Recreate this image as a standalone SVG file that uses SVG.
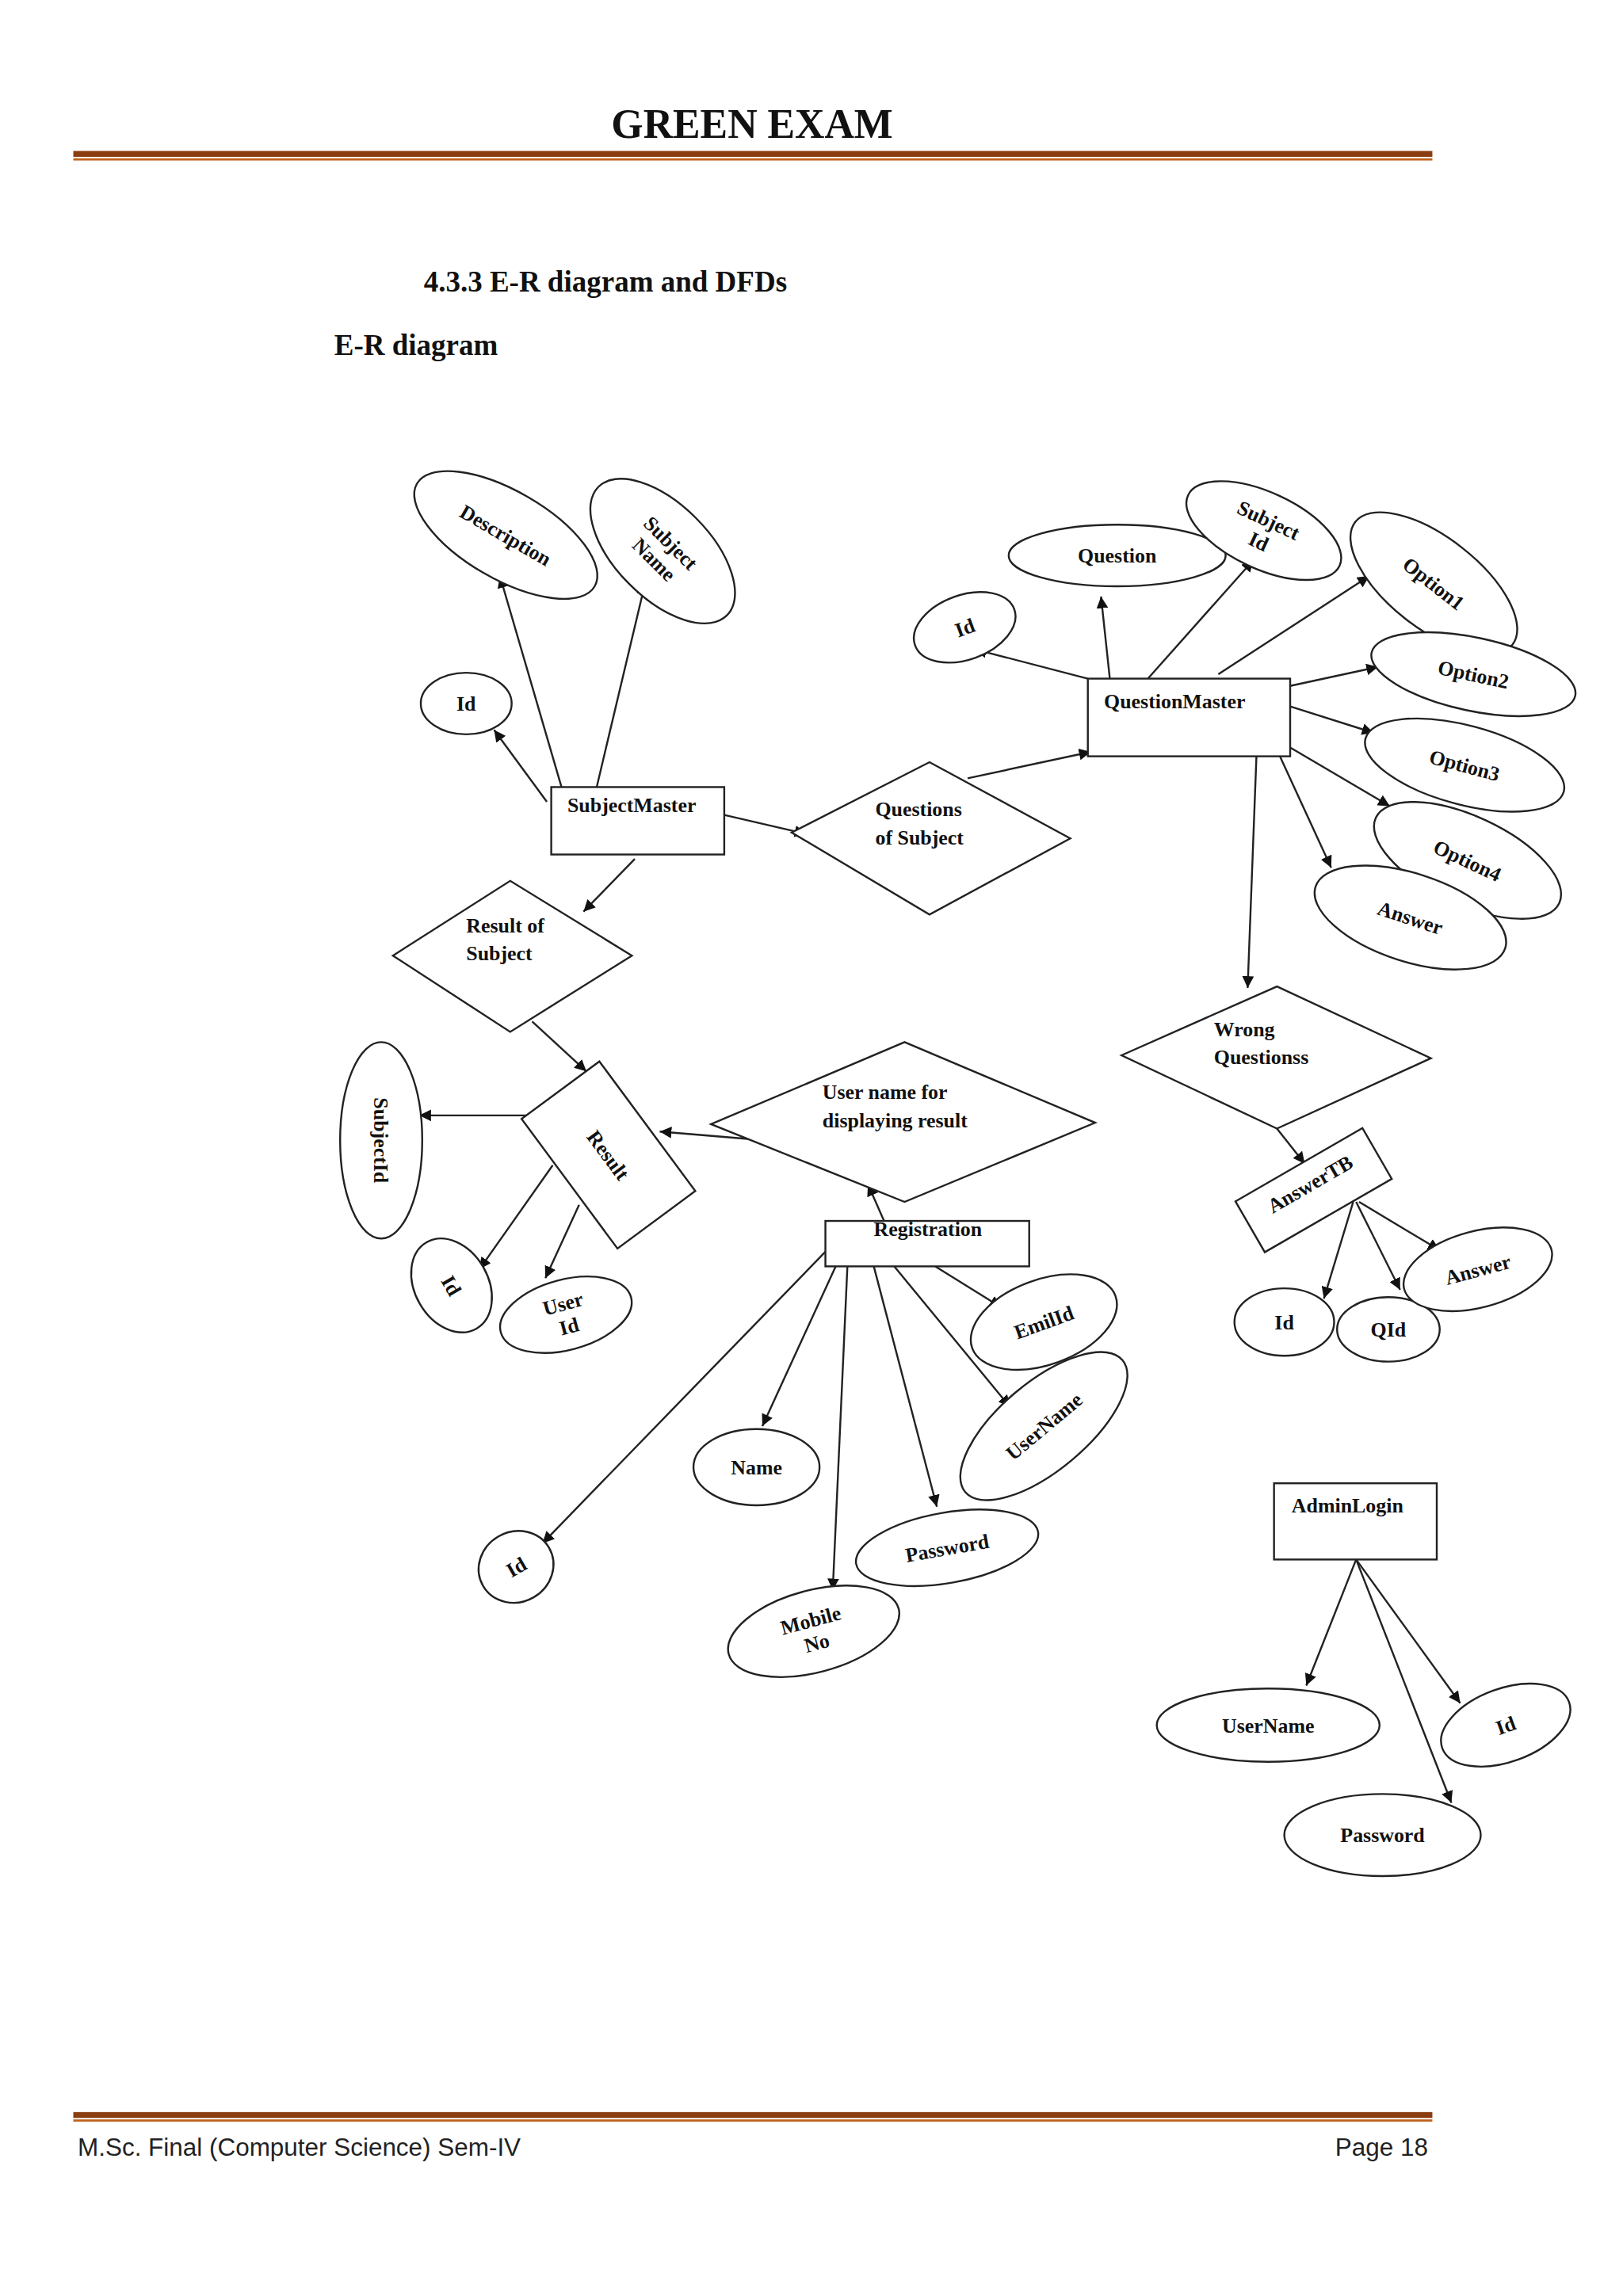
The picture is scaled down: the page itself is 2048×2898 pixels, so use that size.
<svg xmlns="http://www.w3.org/2000/svg" width="2048" height="2898" viewBox="0 0 2048 2898">
<defs>
<marker id="ah" viewBox="0 0 10 10" refX="10" refY="5" markerWidth="8" markerHeight="8" markerUnits="userSpaceOnUse" orient="auto"><path d="M0,0 L10,5 L0,10 z" fill="#111"/></marker>
<style>
.s{fill:#fff;stroke:#222;stroke-width:1.3}
.t{font-family:"Liberation Serif",serif;font-weight:bold;font-size:14px;fill:#111}
.c line{stroke:#222;stroke-width:1.3;marker-end:url(#ah)}
</style>
</defs>
<rect width="2048" height="2898" fill="#fff"/>
<g transform="scale(1.85)">
<g id="header">
<text x="513" y="94" text-anchor="middle" font-family="Liberation Serif,serif" font-weight="bold" font-size="28" fill="#111">GREEN EXAM</text>
<rect x="50" y="103" width="927" height="4" fill="#8a3d10"/><rect x="50" y="108" width="927" height="1.5" fill="#c0601a"/>
<text x="289" y="199" font-family="Liberation Serif,serif" font-weight="bold" font-size="20" fill="#111">4.3.3 E-R diagram and DFDs</text>
<text x="228" y="242" font-family="Liberation Serif,serif" font-weight="bold" font-size="20" fill="#111">E-R diagram</text>
</g>
<g id="footer">
<rect x="50" y="1441" width="927" height="4" fill="#8a3d10"/><rect x="50" y="1446" width="927" height="1.5" fill="#c0601a"/>
<text x="53" y="1471" font-family="Liberation Sans,sans-serif" font-size="17" fill="#222">M.Sc. Final (Computer Science) Sem-IV</text>
<text x="974" y="1471" text-anchor="end" font-family="Liberation Sans,sans-serif" font-size="17" fill="#222">Page 18</text>
</g>
<g class="c" id="connectors">
<line x1="383" y1="537" x2="341" y2="393"/>
<line x1="407" y1="537" x2="440" y2="398"/>
<line x1="373" y1="547" x2="337" y2="498"/>
<line x1="494" y1="556" x2="550" y2="569"/>
<line x1="660" y1="531" x2="744" y2="513"/>
<line x1="433" y1="586" x2="398" y2="622"/>
<line x1="363" y1="697" x2="400" y2="731"/>
<line x1="361" y1="761" x2="286" y2="761"/>
<line x1="377" y1="795" x2="327" y2="866"/>
<line x1="395" y1="822" x2="372" y2="872"/>
<line x1="510" y1="777" x2="450" y2="772"/>
<line x1="603" y1="833" x2="592" y2="808"/>
<line x1="742" y1="463" x2="665" y2="443"/>
<line x1="757" y1="463" x2="751" y2="407"/>
<line x1="783" y1="463" x2="855" y2="382"/>
<line x1="831" y1="460" x2="934" y2="393"/>
<line x1="880" y1="468" x2="940" y2="455"/>
<line x1="880" y1="482" x2="937" y2="500"/>
<line x1="880" y1="510" x2="948" y2="550"/>
<line x1="873" y1="516" x2="908" y2="592"/>
<line x1="857" y1="516" x2="851" y2="674"/>
<line x1="871" y1="770" x2="890" y2="794"/>
<line x1="923" y1="820" x2="903" y2="886"/>
<line x1="925" y1="820" x2="955" y2="880"/>
<line x1="927" y1="820" x2="982" y2="853"/>
<line x1="638" y1="864" x2="683" y2="892"/>
<line x1="610" y1="864" x2="689" y2="960"/>
<line x1="596" y1="864" x2="639" y2="1028"/>
<line x1="578" y1="864" x2="568" y2="1085"/>
<line x1="570" y1="864" x2="520" y2="973"/>
<line x1="563" y1="854" x2="370" y2="1053"/>
<line x1="925" y1="1064" x2="891" y2="1150"/>
<line x1="925" y1="1064" x2="996" y2="1162"/>
<line x1="925" y1="1064" x2="990" y2="1230"/>
</g>
<g id="description"><g transform="translate(345,365) rotate(30)"><ellipse class="s" rx="70" ry="30"/><text class="t" text-anchor="middle" y="5">Description</text></g></g>
<g id="subjectname"><g transform="translate(452,376) rotate(45)"><ellipse class="s" rx="62" ry="32"/><text class="t" text-anchor="middle" y="-3">Subject</text><text class="t" text-anchor="middle" y="13">Name</text></g></g>
<g id="sm_id"><ellipse class="s" cx="318" cy="480" rx="31" ry="21"/><text class="t" x="318" y="485" text-anchor="middle">Id</text></g>
<g id="subjectmaster"><rect class="s" x="376" y="537" width="118" height="46"/><text class="t" x="387" y="554">SubjectMaster</text></g>
<g id="questionsofsubject"><polygon class="s" points="540,568 634,520 730,572 634,624"/><text class="t" x="597" y="557">Questions</text><text class="t" x="597" y="576">of Subject</text></g>
<g id="resultofsubject"><polygon class="s" points="268,652 348,601 431,652 348,704"/><text class="t" x="318" y="636">Result of</text><text class="t" x="318" y="655">Subject</text></g>
<g id="question"><ellipse class="s" cx="762" cy="379" rx="74" ry="21"/><text class="t" x="762" y="384" text-anchor="middle">Question</text></g>
<g id="qm_subjectid"><g transform="translate(862,362) rotate(25)"><ellipse class="s" rx="57" ry="26"/><text class="t" text-anchor="middle" y="-3">Subject</text><text class="t" text-anchor="middle" y="13">Id</text></g></g>
<g id="qm_id"><g transform="translate(658,428) rotate(-20)"><ellipse class="s" rx="36" ry="22"/><text class="t" text-anchor="middle" y="5">Id</text></g></g>
<g id="option1"><g transform="translate(978,398) rotate(38)"><ellipse class="s" rx="68" ry="31"/><text class="t" text-anchor="middle" y="5">Option1</text></g></g>
<g id="option2"><g transform="translate(1005,460) rotate(12)"><ellipse class="s" rx="71" ry="25"/><text class="t" text-anchor="middle" y="5">Option2</text></g></g>
<g id="option3"><g transform="translate(999,522) rotate(15)"><ellipse class="s" rx="70" ry="27"/><text class="t" text-anchor="middle" y="5">Option3</text></g></g>
<g id="option4"><g transform="translate(1001,587) rotate(25)"><ellipse class="s" rx="69" ry="30"/><text class="t" text-anchor="middle" y="5">Option4</text></g></g>
<g id="qm_answer"><g transform="translate(962,626) rotate(18)"><ellipse class="s" rx="68" ry="30"/><text class="t" text-anchor="middle" y="5">Answer</text></g></g>
<g id="questionmaster"><rect class="s" x="742" y="463" width="138" height="53"/><text class="t" x="753" y="483">QuestionMaster</text></g>
<g id="wrongquestions"><polygon class="s" points="765,720 871,673 976,722 871,770"/><text class="t" x="828" y="707">Wrong</text><text class="t" x="828" y="726">Questionss</text></g>
<g id="answertb"><g transform="translate(896,812) rotate(-30)"><rect class="s" x="-50" y="-20" width="100" height="40"/><text class="t" text-anchor="middle" y="0">AnswerTB</text></g></g>
<g id="atb_id"><ellipse class="s" cx="876" cy="902" rx="34" ry="23"/><text class="t" x="876" y="907" text-anchor="middle">Id</text></g>
<g id="atb_qid"><ellipse class="s" cx="947" cy="907" rx="35" ry="22"/><text class="t" x="947" y="912" text-anchor="middle">QId</text></g>
<g id="atb_answer"><g transform="translate(1008,866) rotate(-15)"><ellipse class="s" rx="52" ry="26"/><text class="t" text-anchor="middle" y="5">Answer</text></g></g>
<g id="result"><g transform="translate(415,788) rotate(53.5)"><rect class="s" x="-55" y="-33" width="110" height="66"/><text class="t" text-anchor="middle" y="5">Result</text></g></g>
<g id="subjectid"><g transform="translate(260,778) rotate(90)"><ellipse class="s" rx="67" ry="28"/><text class="t" text-anchor="middle" y="5">SubjectId</text></g></g>
<g id="res_id"><g transform="translate(308,877) rotate(60)"><ellipse class="s" rx="34" ry="25"/><text class="t" text-anchor="middle" y="5">Id</text></g></g>
<g id="userid"><g transform="translate(386,897) rotate(-15)"><ellipse class="s" rx="46" ry="24"/><text class="t" text-anchor="middle" y="-3">User</text><text class="t" text-anchor="middle" y="13">Id</text></g></g>
<g id="usernamefordisplaying"><polygon class="s" points="485,767 617,711 747,766 617,820"/><text class="t" x="561" y="750">User name  for</text><text class="t" x="561" y="769">displaying  result</text></g>
<g id="registration"><rect class="s" x="563" y="833" width="139" height="31"/><text class="t" x="596" y="843">Registration</text></g>
<g id="emilid"><g transform="translate(712,902) rotate(-20)"><ellipse class="s" rx="52" ry="29"/><text class="t" text-anchor="middle" y="5">EmilId</text></g></g>
<g id="reg_username"><g transform="translate(712,973) rotate(-40)"><ellipse class="s" rx="70" ry="30"/><text class="t" text-anchor="middle" y="5">UserName</text></g></g>
<g id="name"><ellipse class="s" cx="516" cy="1001" rx="43" ry="26"/><text class="t" x="516" y="1006" text-anchor="middle">Name</text></g>
<g id="reg_password"><g transform="translate(646,1056) rotate(-10)"><ellipse class="s" rx="63" ry="24"/><text class="t" text-anchor="middle" y="5">Password</text></g></g>
<g id="mobileno"><g transform="translate(555,1113) rotate(-15)"><ellipse class="s" rx="60" ry="28"/><text class="t" text-anchor="middle" y="-3">Mobile</text><text class="t" text-anchor="middle" y="13">No</text></g></g>
<g id="reg_id"><g transform="translate(352,1069) rotate(-30)"><ellipse class="s" rx="26" ry="24"/><text class="t" text-anchor="middle" y="5">Id</text></g></g>
<g id="adminlogin"><rect class="s" x="869" y="1012" width="111" height="52"/><text class="t" x="881" y="1032">AdminLogin</text></g>
<g id="al_username"><ellipse class="s" cx="865" cy="1177" rx="76" ry="25"/><text class="t" x="865" y="1182" text-anchor="middle">UserName</text></g>
<g id="al_id"><g transform="translate(1027,1177) rotate(-20)"><ellipse class="s" rx="46" ry="25"/><text class="t" text-anchor="middle" y="5">Id</text></g></g>
<g id="al_password"><ellipse class="s" cx="943" cy="1252" rx="67" ry="28"/><text class="t" x="943" y="1257" text-anchor="middle">Password</text></g>
</g>
</svg>
